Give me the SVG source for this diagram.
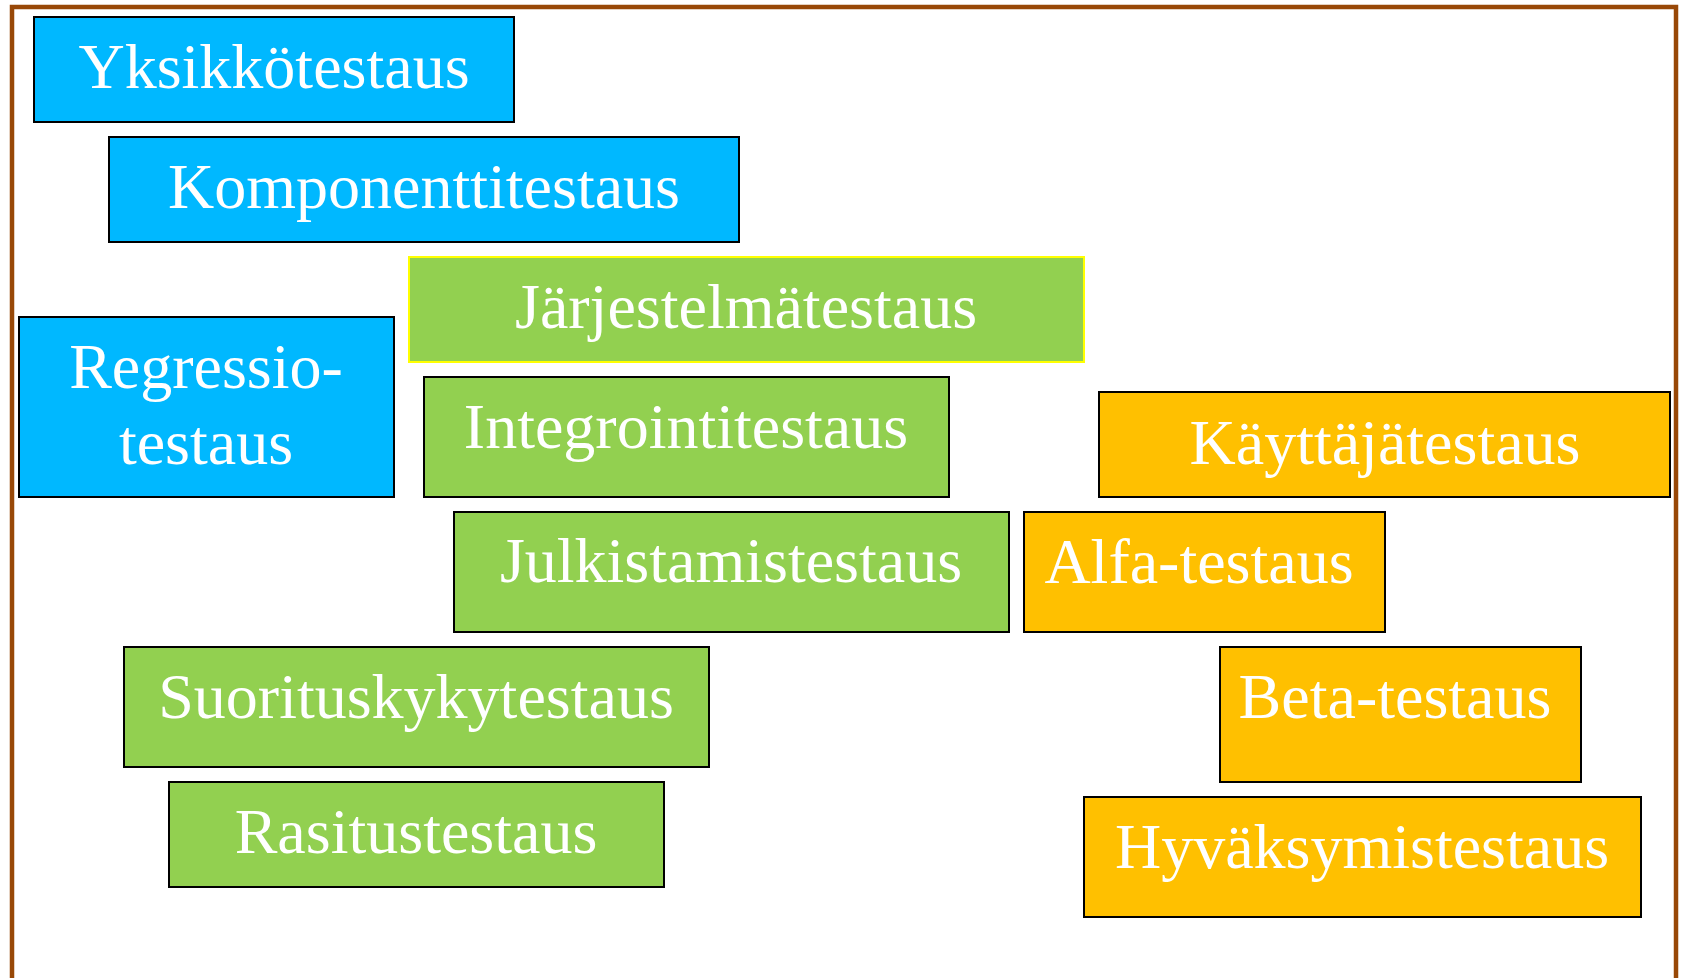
<svg xmlns="http://www.w3.org/2000/svg" width="1681" height="978" viewBox="0 0 1681 978">
<style>
.box{stroke:#000;stroke-width:2}
.blue{fill:#00B8FF}
.green{fill:#92D050}
.orange{fill:#FFC000}
.lbl{font-family:"Liberation Serif","Times New Roman",serif;font-size:64px;fill:#fff;text-anchor:middle}
</style>
<rect width="1681" height="978" fill="#fff"/>
<rect x="12" y="7" width="1664" height="1000" fill="none" stroke="#984807" stroke-width="4.5"/>
<g id="connectors"></g>
<g id="yksikko"><rect class="box blue" x="34" y="17" width="480" height="105"/><text class="lbl" x="274" y="88">Yksikkötestaus</text></g>
<g id="komponentti"><rect class="box blue" x="109" y="137" width="630" height="105"/><text class="lbl" x="424" y="208">Komponenttitestaus</text></g>
<g id="jarjestelma"><rect class="green" x="409" y="257" width="675" height="105" stroke="#FFFF00" stroke-width="2"/><text class="lbl" x="746" y="328">Järjestelmätestaus</text></g>
<g id="regressio"><rect class="box blue" x="19" y="317" width="375" height="180"/><text class="lbl" x="206" y="388">Regressio-</text><text class="lbl" x="206" y="464">testaus</text></g>
<g id="integrointi"><rect class="box green" x="424" y="377" width="525" height="120"/><text class="lbl" x="686" y="448">Integrointitestaus</text></g>
<g id="julkistamis"><rect class="box green" x="454" y="512" width="555" height="120"/><text class="lbl" x="731" y="582">Julkistamistestaus</text></g>
<g id="kayttaja"><rect class="box orange" x="1099" y="392" width="571" height="105"/><text class="lbl" x="1385" y="464">Käyttäjätestaus</text></g>
<g id="alfa"><rect class="box orange" x="1024" y="512" width="361" height="120"/><text class="lbl" x="1199" y="583">Alfa-testaus</text></g>
<g id="beta"><rect class="box orange" x="1220" y="647" width="361" height="135"/><text class="lbl" x="1395" y="718">Beta-testaus</text></g>
<g id="hyvaksymis"><rect class="box orange" x="1084" y="797" width="557" height="120"/><text class="lbl" x="1362" y="868">Hyväksymistestaus</text></g>
<g id="suorituskyky"><rect class="box green" x="124" y="647" width="585" height="120"/><text class="lbl" x="416" y="718">Suorituskykytestaus</text></g>
<g id="rasitus"><rect class="box green" x="169" y="782" width="495" height="105"/><text class="lbl" x="416" y="853">Rasitustestaus</text></g>
</svg>
